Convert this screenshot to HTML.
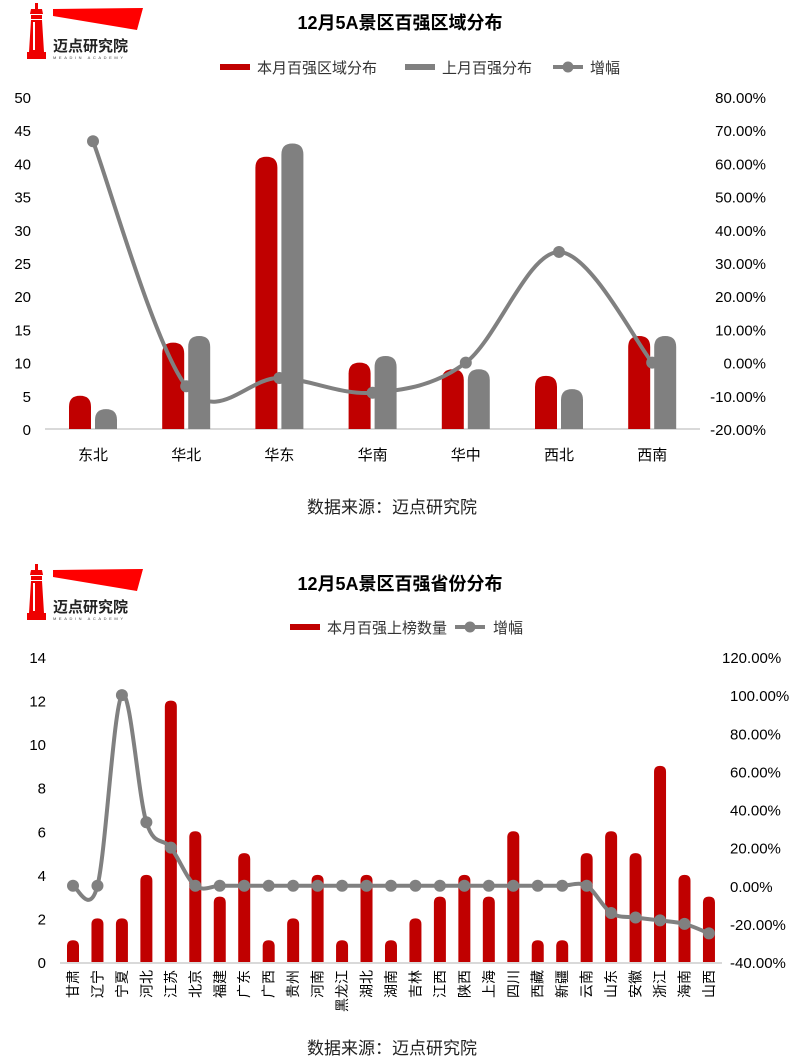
<!DOCTYPE html>
<html><head><meta charset="utf-8"><style>
html,body{margin:0;padding:0;background:#fff;}
svg{display:block;font-family:"Liberation Sans","Noto Sans CJK SC",sans-serif;}
</style></head><body>
<svg id="s" width="800" height="1063" viewBox="0 0 800 1063" xmlns="http://www.w3.org/2000/svg"></svg>
<script>
const S=document.getElementById('s');let h='';
function logo(dy){
 h+=`<g transform="translate(0,${dy})">
 <polygon points="53,9 143,8 137,30 53,16" fill="#f00"/>
 <rect x="35" y="3" width="3" height="6" fill="#e00"/>
 <polygon points="31,9 42,9 43,14 30,14" fill="#e00"/>
 <rect x="31" y="15" width="11" height="4" fill="#e00"/>
 <polygon points="31,20 42,20 44,52 29,52" fill="#e00"/>
 <rect x="33" y="22" width="2" height="28" fill="#fff"/>
 <rect x="27" y="52" width="19" height="7" fill="#e00"/>
 <text x="53" y="51" font-size="15" font-weight="bold" fill="#222" font-family="Noto Sans CJK SC,sans-serif">迈点研究院</text>
 <text x="53" y="59" font-size="4" fill="#444" letter-spacing="2.6">MEADIN ACADEMY</text></g>`;
}
function path(pts){
 let d=`M${pts[0][0]},${pts[0][1]}`;
 for(let i=0;i<pts.length-1;i++){
  const p0=pts[i-1]||pts[i],p1=pts[i],p2=pts[i+1],p3=pts[i+2]||p2,t=1/6;
  d+=`C${p1[0]+(p2[0]-p0[0])*t},${p1[1]+(p2[1]-p0[1])*t} ${p2[0]-(p3[0]-p1[0])*t},${p2[1]-(p3[1]-p1[1])*t} ${p2[0]},${p2[1]}`;
 }return d;
}
function bar(x,w,y0,y,c){const r=w/2;if(y0-y<r){h+=`<rect x="${x}" y="${y}" width="${w}" height="${y0-y}" fill="${c}"/>`;return;}
 h+=`<path d="M${x},${y0}L${x},${y+r}Q${x},${y} ${x+r},${y} Q${x+w},${y} ${x+w},${y+r}L${x+w},${y0}Z" fill="${c}"/>`;}
const R='#c00000',G='#808080';
// chart 1
logo(0);
h+=`<text x="400" y="29" text-anchor="middle" font-size="18" font-weight="bold">12月5A景区百强区域分布</text>`;
h+=`<rect x="220" y="64" width="30" height="6" fill="${R}"/><text x="257" y="73" font-size="15" fill="#333">本月百强区域分布</text>`;
h+=`<rect x="405" y="64" width="30" height="6" fill="${G}"/><text x="442" y="73" font-size="15" fill="#333">上月百强分布</text>`;
h+=`<line x1="553" y1="67" x2="583" y2="67" stroke="${G}" stroke-width="4"/><circle cx="568" cy="67" r="5.5" fill="${G}"/><text x="590" y="73" font-size="15" fill="#333">增幅</text>`;
const y0=429,u=332/50;
for(let i=0;i<=10;i++){const y=y0-i*5*u;h+=`<text x="31" y="${y+6}" text-anchor="end" font-size="15">${i*5}</text>`;
 const v=-20+i*10;h+=`<text x="766" y="${y+6}" text-anchor="end" font-size="15">${v.toFixed(2)}%</text>`;}
h+=`<line x1="45" y1="429" x2="700" y2="429" stroke="#d9d9d9" stroke-width="2"/>`;
const c1=['东北','华北','华东','华南','华中','西北','西南'],r1=[5,13,41,10,9,8,14],g1=[3,14,43,11,9,6,14],p1=[66.67,-7.14,-4.65,-9.09,0,33.33,0];
const pts1=[];
c1.forEach((c,i)=>{const x=93+i*93.2;bar(x-24,22,y0,y0-r1[i]*u,R);bar(x+2,22,y0,y0-g1[i]*u,G);
 h+=`<text x="${x}" y="460" text-anchor="middle" font-size="15">${c}</text>`;pts1.push([x,y0-(p1[i]+20)*3.32]);});
h+=`<path d="${path(pts1)}" fill="none" stroke="${G}" stroke-width="4"/>`;
pts1.forEach(p=>h+=`<circle cx="${p[0]}" cy="${p[1]}" r="6" fill="${G}"/>`);
h+=`<text x="392" y="513" text-anchor="middle" font-size="17" fill="#222" font-family="Noto Sans CJK SC,sans-serif">数据来源：迈点研究院</text>`;
// chart 2
logo(561);
h+=`<text x="400" y="590" text-anchor="middle" font-size="18" font-weight="bold">12月5A景区百强省份分布</text>`;
h+=`<rect x="290" y="624" width="30" height="6" fill="${R}"/><text x="327" y="633" font-size="15" fill="#333">本月百强上榜数量</text>`;
h+=`<line x1="455" y1="627" x2="485" y2="627" stroke="${G}" stroke-width="4"/><circle cx="470" cy="627" r="5.5" fill="${G}"/><text x="493" y="633" font-size="15" fill="#333">增幅</text>`;
const z=962,u2=305/14;
for(let i=0;i<=7;i++){const y=z-i*2*u2;h+=`<text x="46" y="${y+6}" text-anchor="end" font-size="15">${i*2}</text>`;}
for(let i=0;i<=8;i++){const y=z-i*305/8;h+=`<text x="${i==8?722:730}" y="${y+6}" font-size="15">${(-40+i*20).toFixed(2)}%</text>`;}
h+=`<line x1="60" y1="963" x2="722" y2="963" stroke="#d9d9d9" stroke-width="2"/>`;
const c2=['甘肃','辽宁','宁夏','河北','江苏','北京','福建','广东','广西','贵州','河南','黑龙江','湖北','湖南','吉林','江西','陕西','上海','四川','西藏','新疆','云南','山东','安徽','浙江','海南','山西'];
const v2=[1,2,2,4,12,6,3,5,1,2,4,1,4,1,2,3,4,3,6,1,1,5,6,5,9,4,3];
const q2=[0,0,100,33.33,20,0,0,0,0,0,0,0,0,0,0,0,0,0,0,0,0,0,-14.29,-16.67,-18.18,-20,-25];
const pts2=[];
c2.forEach((c,i)=>{const x=73+i*24.46;bar(x-6,12,z,z-v2[i]*u2,R);
 h+=`<text transform="translate(${x+5},970) rotate(-90)" text-anchor="end" font-size="14">${c}</text>`;pts2.push([x,z-(q2[i]+40)*305/160]);});
h+=`<path d="${path(pts2)}" fill="none" stroke="${G}" stroke-width="4"/>`;
pts2.forEach(p=>h+=`<circle cx="${p[0]}" cy="${p[1]}" r="6" fill="${G}"/>`);
h+=`<text x="392" y="1054" text-anchor="middle" font-size="17" fill="#222" font-family="Noto Sans CJK SC,sans-serif">数据来源：迈点研究院</text>`;
S.innerHTML=h;
</script>
</body></html>
